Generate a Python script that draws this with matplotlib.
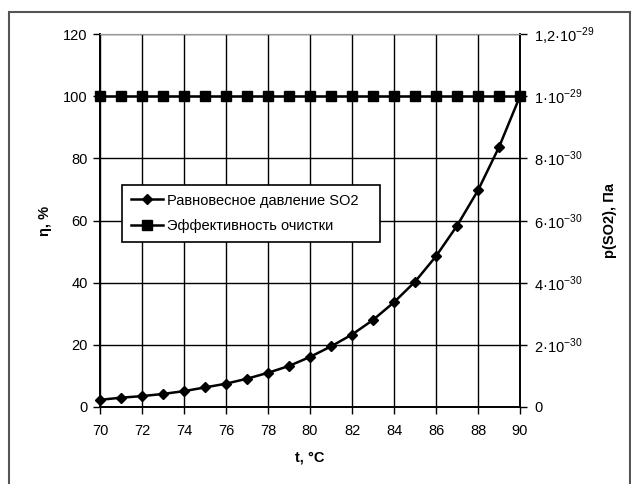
import matplotlib
matplotlib.use("Agg")
import matplotlib.pyplot as plt
from matplotlib.patches import Rectangle
from matplotlib.lines import Line2D

plt.rcParams['font.family'] = ['Liberation Sans', 'DejaVu Sans']

# Data
t = [70, 71, 72, 73, 74, 75, 76, 77, 78, 79, 80, 81, 82, 83, 84, 85, 86, 87, 88, 89, 90]
efficiency = [100] * 21
pressure = [2.3e-31, 3.0e-31, 3.5e-31, 4.2e-31, 5.1e-31, 6.3e-31, 7.5e-31, 9.1e-31,
             1.1e-30, 1.32e-30, 1.61e-30, 1.95e-30, 2.33e-30, 2.8e-30, 3.37e-30,
             4.03e-30, 4.85e-30, 5.83e-30, 6.97e-30, 8.36e-30, 1.0e-29]
x_ticks = list(range(70, 91, 2))
left_ticks = [0, 20, 40, 60, 80, 100, 120]
right_ticks = [0, 2e-30, 4e-30, 6e-30, 8e-30, 1e-29, 1.2e-29]
right_labels = ['0', r'2·10$^{\mathregular{-30}}$', r'4·10$^{\mathregular{-30}}$',
                r'6·10$^{\mathregular{-30}}$', r'8·10$^{\mathregular{-30}}$',
                r'1·10$^{\mathregular{-29}}$', r'1,2·10$^{\mathregular{-29}}$']
label_p = 'Равновесное давление SO2'
label_e = 'Эффективность очистки'

W, H = 631, 484
fig = plt.figure(figsize=(W / 100, H / 100), dpi=100)
fig.patches.append(Rectangle((9 / W, -0.05), (630 - 9) / W, 1 - 12 / H + 0.05,
                             transform=fig.transFigure, fill=False,
                             edgecolor='#555555', lw=1.5))

ax = fig.add_axes([100 / W, 1 - 407 / H, 420 / W, 373 / H])
ax2 = ax.twinx()

ax.set_xlim(70, 90)
ax.set_ylim(0, 120)
ax2.set_ylim(0, 1.2e-29)
ax.set_xticks(x_ticks)
ax.set_yticks(left_ticks)
ax2.set_yticks(right_ticks)
ax2.set_yticklabels(right_labels)

ax.grid(True, color='black', lw=1)
for a in (ax, ax2):
    a.tick_params(direction='out', length=5, width=1, labelsize=10.5, colors='black')
    a.spines['top'].set_color('#999999')
    for s in ('left', 'right', 'bottom'):
        a.spines[s].set_color('black')
        a.spines[s].set_linewidth(1.2)
ax.tick_params(axis='x', pad=7)
ax.tick_params(axis='y', pad=4)
ax2.tick_params(axis='y', pad=5)

ax.plot(t, efficiency, color='black', lw=1.8, marker='s', markersize=7, clip_on=False, zorder=3)
ax2.plot(t, pressure, color='black', lw=1.8, marker='D', markersize=5.5, clip_on=False, zorder=3)

ax.set_xlabel('t, °C', fontsize=10.5, fontweight='bold', labelpad=9)
ax.set_ylabel('η, %', fontsize=10.5, fontweight='bold', labelpad=8)
ax2.set_ylabel('p(SO2), Па', fontsize=10.5, fontweight='bold', labelpad=6)

handles = [Line2D([], [], color='black', lw=1.8, marker='D', markersize=5.5),
           Line2D([], [], color='black', lw=1.8, marker='s', markersize=7)]
leg = ax2.legend(handles, [label_p, label_e], loc='lower left',
                 bbox_to_anchor=(22 / 420, 165 / 373, 258 / 420, 60 / 373), mode='expand',
                 borderaxespad=0,
                 fancybox=False, framealpha=1, edgecolor='black', fontsize=10.5,
                 handlelength=2.2, borderpad=0.6, labelspacing=0.8, handletextpad=0.3)
leg.get_frame().set_linewidth(1.2)

fig.savefig('out.png', dpi=100)
